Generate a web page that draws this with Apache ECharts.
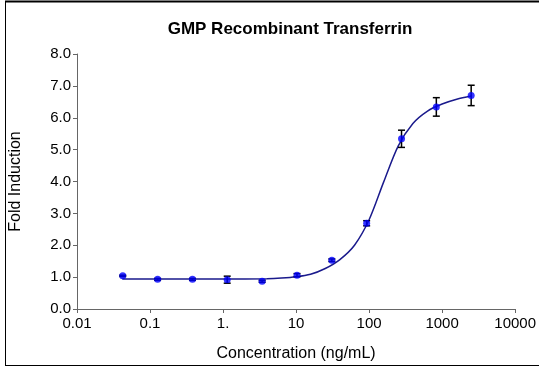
<!DOCTYPE html>
<html>
<head>
<meta charset="utf-8">
<script src="https://cdn.jsdelivr.net/npm/echarts@6/dist/echarts.min.js"></script>
<style>
  html, body { margin: 0; padding: 0; background: #fff; }
  #chart { width: 539px; height: 367px; }
</style>
</head>
<body>
<div id="chart"></div>
<script>
// Measured responses: concentration (ng/mL), mean fold induction, error (±)
const concentration = [0.0423, 0.127, 0.381, 1.14, 3.43, 10.3, 30.9, 92.6, 278, 833, 2500];
const foldInduction = [1.04, 0.93, 0.93, 0.92, 0.87, 1.06, 1.53, 2.69, 5.34, 6.34, 6.70];
const errorBar      = [0.02, 0.03, 0.03, 0.11, 0.03, 0.05, 0.04, 0.08, 0.27, 0.29, 0.32];

// Fitted dose-response curve, sampled along the concentration range
const fitConc = [0.0417, 0.1, 1.0, 3.98, 6.31, 10, 15.8, 25.1, 39.8, 63.1, 100, 158, 251, 398, 631, 1000, 1585, 2512];
const fitFold = [0.94, 0.94, 0.94, 0.95, 0.97, 1.01, 1.09, 1.27, 1.55, 2.00, 2.80, 3.98, 5.12, 5.82, 6.21, 6.43, 6.58, 6.68];

const xTickLabels = { 0.01: '0.01', 0.1: '0.1', 1: '1.', 10: '10', 100: '100', 1000: '1000', 10000: '10000' };

const chart = echarts.init(document.getElementById('chart'));
const font = 'Arial, "Liberation Sans", sans-serif';

chart.setOption({
  animation: false,
  backgroundColor: '#fff',
  title: {
    text: 'GMP Recombinant Transferrin',
    left: 285, top: 16, textAlign: 'center',
    textStyle: { fontFamily: font, fontSize: 17, fontWeight: 'bold', color: '#000' }
  },
  grid: { left: 71, right: 22, top: 54, bottom: 54.5 },
  xAxis: {
    type: 'log', logBase: 10, min: 0.01, max: 10000,
    name: 'Concentration (ng/mL)', nameLocation: 'middle', nameGap: 37,
    nameTextStyle: { fontFamily: font, fontSize: 16, color: '#000' },
    axisLine: { lineStyle: { color: '#666', width: 1 } },
    axisTick: { inside: false, length: 4, lineStyle: { color: '#666' } },
    axisLabel: {
      margin: 7, fontFamily: font, fontSize: 15, color: '#000',
      formatter: v => xTickLabels[v] !== undefined ? xTickLabels[v] : ''
    },
    splitLine: { show: false }
  },
  yAxis: {
    type: 'value', min: 0, max: 8, interval: 1,
    name: 'Fold Induction', nameLocation: 'middle', nameGap: 53, nameRotate: 90,
    nameTextStyle: { fontFamily: font, fontSize: 16, color: '#000' },
    axisLine: { show: true, lineStyle: { color: '#666', width: 1 } },
    axisTick: { show: true, inside: false, length: 4, lineStyle: { color: '#666' } },
    axisLabel: { margin: 6, fontFamily: font, fontSize: 15, color: '#000', formatter: v => v.toFixed(1) },
    splitLine: { show: false }
  },
  graphic: [
    { type: 'line', shape: { x1: 5, y1: 1.5, x2: 539, y2: 1.5 }, style: { stroke: '#000', lineWidth: 2 } },
    { type: 'line', shape: { x1: 5.5, y1: 1, x2: 5.5, y2: 365.5 }, style: { stroke: '#000', lineWidth: 1 } },
    { type: 'line', shape: { x1: 5, y1: 365.5, x2: 539, y2: 365.5 }, style: { stroke: '#000', lineWidth: 1 } }
  ],
  series: [
    {
      type: 'line',
      data: fitConc.map((c, i) => [c, fitFold[i]]),
      smooth: 0.3,
      symbol: 'none',
      lineStyle: { color: '#1a1a8c', width: 1.5 },
      z: 2
    },
    {
      type: 'custom',
      data: concentration.map((c, i) => [c, foldInduction[i] - errorBar[i], foldInduction[i] + errorBar[i]]),
      renderItem: (params, api) => {
        const lo = api.coord([api.value(0), api.value(1)]);
        const hi = api.coord([api.value(0), api.value(2)]);
        const w = 3.5;
        const style = { stroke: '#000', lineWidth: 1.5 };
        return {
          type: 'group',
          children: [
            { type: 'line', shape: { x1: lo[0], y1: lo[1], x2: hi[0], y2: hi[1] }, style },
            { type: 'line', shape: { x1: lo[0] - w, y1: lo[1], x2: lo[0] + w, y2: lo[1] }, style },
            { type: 'line', shape: { x1: hi[0] - w, y1: hi[1], x2: hi[0] + w, y2: hi[1] }, style }
          ]
        };
      },
      z: 3
    },
    {
      type: 'scatter',
      data: concentration.map((c, i) => [c, foldInduction[i]]),
      symbol: 'circle',
      symbolSize: 7,
      itemStyle: { color: '#0000ff' },
      z: 4
    }
  ]
});
</script>
</body>
</html>
